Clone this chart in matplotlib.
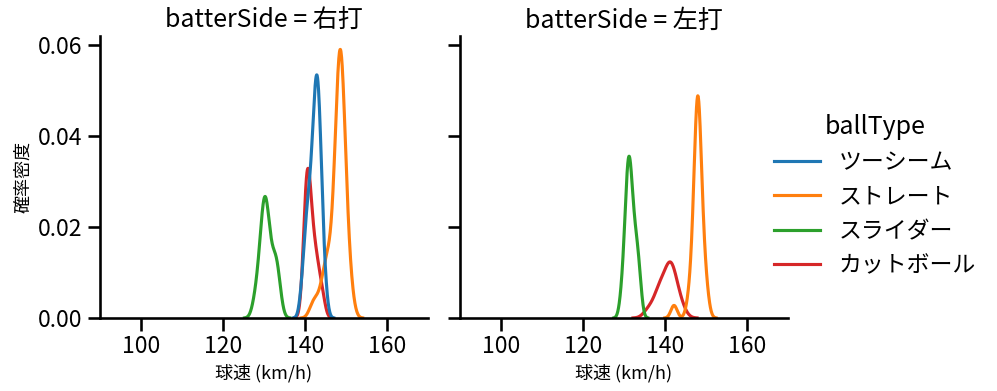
import matplotlib
matplotlib.use("Agg")
import matplotlib.pyplot as plt
import pandas as pd
import seaborn as sns

# pitch speeds (km/h) per batter side and pitch type
ball_types = ["ツーシーム", "ストレート", "スライダー", "カットボール"]
sides = ["右打", "左打"]

# vs right-handed batters
twoseam_R = [139.2, 139.7, 140.0, 140.3, 140.5, 140.8, 141.0,
             140.6, 141.1, 141.4, 141.6, 141.7, 141.9, 142.0, 142.1, 142.2, 142.3,
             142.4, 142.5, 142.6, 142.7, 142.8, 142.8, 142.9, 143.0, 143.1, 143.2,
             143.3, 143.4, 143.4, 143.5, 143.6, 143.7, 143.9, 144.0, 144.2, 144.5,
             145.0]
straight_R = [141.8, 142.9, 144.0, 144.6, 145.0, 145.3, 145.6, 145.9, 146.3, 146.8,
              147.0, 147.2, 147.4, 147.6, 147.7, 147.9, 148.0, 148.1, 148.2, 148.3,
              148.4, 148.5, 148.6, 148.7, 148.8, 148.9, 149.0, 149.1, 149.2, 149.3,
              149.4, 149.5, 149.6, 149.8, 150.0, 150.2, 150.4, 150.9, 151.3, 148.8,
              149.0, 148.2, 147.8, 149.2, 148.0, 148.4, 148.6]
slider_R = [127.8, 128.5, 129.0, 129.3, 129.6, 129.8, 130.0, 130.1, 130.3,
            130.5, 130.6, 130.8, 131.0, 131.2, 131.5, 132.0, 132.5, 132.8, 133.0,
            133.3, 133.7, 129.9]
cutter_R = [139.6, 139.9, 140.1, 140.3, 140.4, 140.5, 140.6, 140.8, 141.0,
            141.2, 141.4, 141.6, 141.9, 142.2, 142.5, 142.8, 143.2, 143.7, 144.4,
            140.4, 141.1]

# vs left-handed batters
straight_L = [142.2, 145.8, 146.6, 146.8, 147.1, 147.4, 147.5, 147.6, 147.7, 147.8,
              147.9, 148.0, 148.0, 148.1, 148.2, 148.3, 148.4, 148.5, 148.6, 148.9,
              149.0, 149.4, 149.7, 150.2, 147.9, 148.2, 147.8]
slider_L = [129.4, 130.0, 130.3, 130.5, 130.7, 130.9, 131.0, 131.2, 131.3, 131.4,
            131.5, 131.6, 131.8, 132.0, 132.2, 132.4, 132.7, 133.0, 133.2, 133.6,
            133.9, 130.8]
cutter_L = [136.0, 137.8, 138.6, 139.0, 139.3, 140.4, 140.9, 141.1, 141.3, 141.5,
            141.8, 142.3, 143.0, 144.0]

groups = [("右打", "ツーシーム", twoseam_R), ("右打", "ストレート", straight_R),
          ("右打", "スライダー", slider_R), ("右打", "カットボール", cutter_R),
          ("左打", "ストレート", straight_L), ("左打", "スライダー", slider_L),
          ("左打", "カットボール", cutter_L)]
rows = []
for side, bt, vals in groups:
    for v in vals:
        rows.append({"batterSide": side, "ballType": bt, "speed": v})
df = pd.DataFrame(rows)

sns.set_context("talk")
plt.rcParams["font.family"] = ["Noto Sans CJK JP", "DejaVu Sans"]

g = sns.displot(df, x="speed", hue="ballType", col="batterSide", kind="kde",
                hue_order=ball_types, col_order=sides, palette="tab10",
                height=4, aspect=1)
g.set(xlim=(90, 170))
g.set_axis_labels("球速 (km/h)", "確率密度", fontsize=13)

fig = g.figure
fig.set_size_inches(9.97, 3.91)
ax1, ax2 = g.axes.flat
ax1.set_position([100 / 997, 73 / 391, 328 / 997, 282 / 391])
ax2.set_position([460 / 997, 73 / 391, 328 / 997, 282 / 391])
sns.move_legend(g, "center left", bbox_to_anchor=(0.756, 0.50))

fig.savefig("out.png", dpi=100)
